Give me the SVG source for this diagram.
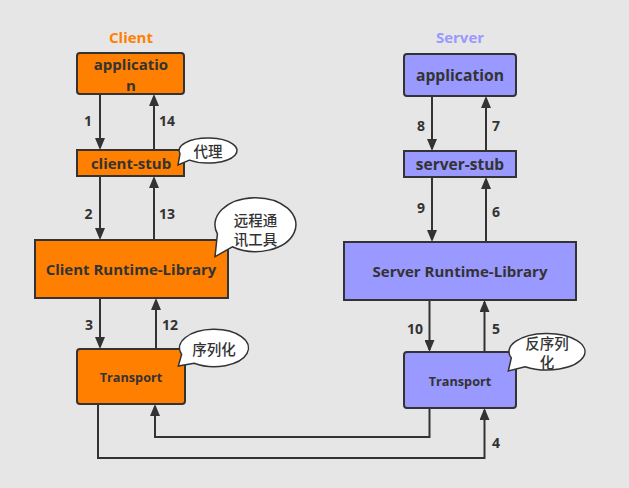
<svg xmlns="http://www.w3.org/2000/svg" width="629" height="488" viewBox="0 0 629 488">
<style>
.t{font-family:"Open Sans","Noto Sans","Noto Sans CJK SC",sans-serif;font-weight:bold;fill:#333;text-anchor:middle;dominant-baseline:central}
.cn{font-family:"Noto Sans CJK SC",sans-serif;font-weight:500;fill:#333;text-anchor:middle;dominant-baseline:central;font-size:14.5px}
.c{fill:#FF8000;stroke:#333;stroke-width:2}
.s{fill:#9999FF;stroke:#333;stroke-width:2}
.b{fill:#fff;stroke:#333;stroke-width:1.5}
.ln{fill:none;stroke:#333;stroke-width:2;marker-end:url(#ah)}
.n{font-size:14px}
</style>
<defs>
<marker id="ah" markerUnits="userSpaceOnUse" markerWidth="12" markerHeight="10" refX="10" refY="5" orient="auto">
<path d="M0,0 L12,5 L0,10 Z" fill="#333"/>
</marker>
</defs>
<rect width="629" height="488" fill="#e6e6e6"/>
<text class="t" x="131" y="37" font-size="15" style="fill:#FF8000">Client</text>
<text class="t" x="460" y="37" font-size="15" style="fill:#9999FF">Server</text>

<g id="connectors">
<path class="ln" d="M100,94 V148"/>
<path class="ln" d="M154,150 V96"/>
<path class="ln" d="M100,176 V238"/>
<path class="ln" d="M154,240 V178"/>
<path class="ln" d="M100,298 V347"/>
<path class="ln" d="M156,349 V300"/>
<path class="ln" d="M429.5,408 V437 H155 V406"/>
<path class="ln" d="M98,404 V458 H484.5 V410"/>
<path class="ln" d="M432,96 V149"/>
<path class="ln" d="M486,151 V98"/>
<path class="ln" d="M432,177 V240"/>
<path class="ln" d="M486,242 V179"/>
<path class="ln" d="M429.5,300 V350"/>
<path class="ln" d="M484.5,352 V302"/>
<g class="t n">
<text x="88" y="120">1</text>
<text x="167" y="120">14</text>
<text x="88.5" y="213">2</text>
<text x="167" y="213">13</text>
<text x="89" y="324">3</text>
<text x="170" y="324">12</text>
<text x="170.5" y="393">11</text>
<text x="421" y="125">8</text>
<text x="496" y="125">7</text>
<text x="421" y="207">9</text>
<text x="496" y="211">6</text>
<text x="415" y="328">10</text>
<text x="496" y="328">5</text>
<text x="496" y="442">4</text>
</g>
</g>

<g id="client-app">
<rect class="c" x="77" y="53" width="107" height="41" rx="3"/>
<text class="t" x="131" y="64" font-size="15">applicatio</text>
<text class="t" x="131" y="84.5" font-size="15">n</text>
</g>
<g id="client-stub">
<rect class="c" x="77" y="150" width="107" height="26"/>
<text class="t" x="131" y="163" font-size="15">client-stub</text>
</g>
<g id="client-runtime">
<rect class="c" x="35" y="240" width="193" height="58"/>
<text class="t" x="131" y="269" font-size="15">Client Runtime-Library</text>
</g>
<g id="client-transport">
<rect class="c" x="77" y="349" width="108" height="55" rx="3"/>
<text class="t" x="131" y="377" font-size="12.7">Transport</text>
</g>

<g id="server-app">
<rect class="s" x="404" y="54" width="112" height="42" rx="3"/>
<text class="t" x="460" y="75" font-size="15.7">application</text>
</g>
<g id="server-stub">
<rect class="s" x="404" y="151" width="112" height="26"/>
<text class="t" x="460" y="164" font-size="15.5">server-stub</text>
</g>
<g id="server-runtime">
<rect class="s" x="344" y="242" width="232" height="58"/>
<text class="t" x="460" y="271" font-size="15">Server Runtime-Library</text>
</g>
<g id="server-transport">
<rect class="s" x="404" y="352" width="112" height="56" rx="3"/>
<text class="t" x="460" y="381" font-size="12.7">Transport</text>
</g>

<g id="note-proxy">
<path class="b" d="M189.4,160.1 L178,165 L180,153.7 A29 12.5 0 1 1 189.4,160.1 Z"/>
<text class="cn" x="208" y="150.5">代理</text>
</g>
<g id="note-runtime">
<path class="b" d="M232.3,246.8 L215,256.7 L217.4,233.9 A40.5 27 0 1 1 232.3,246.8 Z"/>
<text class="cn" x="255.5" y="219">远程通</text>
<text class="cn" x="255.5" y="238">讯工具</text>
</g>
<g id="note-serialize">
<path class="b" d="M194.2,363.3 L178.3,366 L181.6,354.4 A34.5 18.7 0 1 1 194.2,363.3 Z"/>
<text class="cn" x="214" y="348">序列化</text>
</g>
<g id="note-deserialize">
<path class="b" d="M525.2,366.7 L508.3,371 L511.3,358 A38 18.3 0 1 1 525.2,366.7 Z"/>
<text class="cn" x="547" y="342">反序列</text>
<text class="cn" x="547" y="361.5">化</text>
</g>
</svg>
